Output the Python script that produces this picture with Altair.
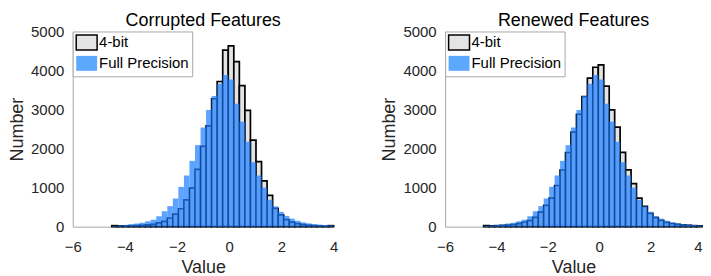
import altair as alt
import numpy as np
import pandas as pd

# ---- data ----
BIN_LO = -4.5
BIN_HI = 4.0
N_BINS = 40

full_precision = [20, 30, 45, 60, 80, 100, 137, 178, 265, 395,
                  525, 720, 1020, 1310, 1685, 2088, 2540, 2990, 3345, 3660,
                  3888, 3770, 3150, 2690, 2174, 1650, 1310, 1000, 688, 520,
                  380, 275, 205, 150, 110, 85, 65, 52, 42, 32]

corrupted_4bit = [25, 18, 20, 24, 28, 35, 45, 60, 95, 137,
                  221, 323, 458, 687, 985, 1469, 2055, 2581, 3277, 3718,
                  4524, 4630, 4226, 3615, 2979, 2215, 1665, 1171, 800, 470,
                  300, 180, 115, 75, 50, 35, 25, 18, 12, 25]

renewed_4bit = [25, 20, 25, 30, 40, 55, 78, 112, 153, 239,
                374, 545, 731, 1054, 1451, 1900, 2420, 2880, 3330, 3803,
                4083, 4142, 3600, 2990, 2550, 1902, 1452, 1100, 730, 520,
                340, 230, 160, 110, 80, 60, 45, 35, 25, 20]

series_names = ["4-bit", "Full Precision"]
panel_titles = ["Corrupted Features", "Renewed Features"]
x_ticks = [-6, -4, -2, 0, 2, 4]
y_ticks = [0, 1000, 2000, 3000, 4000, 5000]

# ---- styles ----
FONT = "Liberation Sans"
GRAY = "#e4e4e4"
FP_FILL = "#1f80ff"
FP_LEGEND = "#5ca8ff"
AXIS_COLOR = "#a6a6a6"
TEXT_COLOR = "#262626"

edges = np.linspace(BIN_LO, BIN_HI, N_BINS + 1)


def frame(counts, series):
    return pd.DataFrame({"x0": edges[:-1], "x1": edges[1:],
                         "count": counts, "series": series})


def panel(title, q_counts, width, flush_last=False):
    df = pd.concat([frame(q_counts, series_names[0]),
                    frame(full_precision, series_names[1])], ignore_index=True)
    x_axis_kw = dict(values=x_ticks, title="Value", grid=False, ticks=False,
                     domainColor=AXIS_COLOR, labelFontSize=15, labelColor=TEXT_COLOR,
                     labelFont=FONT, titleFont=FONT, titleFontSize=18,
                     titleFontWeight="normal", titleColor=TEXT_COLOR,
                     labelPadding=13, titlePadding=4, labelFlush=False, format="d")
    if flush_last:
        x_axis_kw["labelAlign"] = alt.ExprRef(
            expr=f"datum.value == {x_ticks[-1]} ? 'right' : 'center'")
    x = alt.X("x0:Q",
              scale=alt.Scale(domain=[x_ticks[0], x_ticks[-1]], nice=False, zero=False),
              axis=alt.Axis(**x_axis_kw))
    y = alt.Y("count:Q",
              scale=alt.Scale(domain=[y_ticks[0], y_ticks[-1]], nice=False),
              axis=alt.Axis(values=y_ticks, title="Number", grid=False, ticks=False,
                            domainColor=AXIS_COLOR, labelFontSize=15, labelColor=TEXT_COLOR,
                            labelFont=FONT, titleFont=FONT, titleFontSize=18,
                            titleFontWeight="normal", titleColor=TEXT_COLOR,
                            labelPadding=9, titlePadding=4, labelFlush=False, format="d"))
    legend = alt.Legend(title=None, orient="none", legendX=0, legendY=0,
                        fillColor="white", strokeColor="#a8a8a8", padding=2.5,
                        cornerRadius=0, rowPadding=0, labelFont=FONT, labelFontSize=15,
                        labelColor="#000000", labelOffset=7,
                        symbolType="M-1,-1L1.8,-1L1.8,1L-1,1Z", symbolSize=225,
                        symbolStrokeWidth=1.5)
    quant = alt.Chart(df).transform_filter(
        alt.datum.series == series_names[0]
    ).mark_bar(strokeWidth=1.7).encode(
        x=x, x2="x1:Q", y=y, y2=alt.datum(0),
        fill=alt.Fill("series:N",
                      scale=alt.Scale(domain=series_names, range=[GRAY, FP_LEGEND]),
                      legend=legend),
        stroke=alt.Stroke("series:N",
                          scale=alt.Scale(domain=series_names, range=["#000000", "transparent"]),
                          legend=legend),
    )
    fp = alt.Chart(df).transform_filter(
        alt.datum.series == series_names[1]
    ).mark_bar(fill=FP_FILL, opacity=0.72, strokeWidth=0).encode(
        x=x, x2="x1:Q", y=y, y2=alt.datum(0),
    )
    return alt.layer(quant, fp).properties(
        width=width, height=196,
        title=alt.Title(title, font=FONT, fontSize=18, fontWeight="normal",
                        color="#000000", offset=-5),
    )


chart = alt.hconcat(
    panel(panel_titles[0], corrupted_4bit, 262),
    panel(panel_titles[1], renewed_4bit, 258, flush_last=True),
    spacing=42,
).resolve_scale(fill="independent", stroke="independent").resolve_legend(
    fill="independent", stroke="independent"
).properties(padding={"left": 0, "top": 3, "right": 0, "bottom": 0}).configure_view(stroke=None)

chart.save("out.html", embed_options={"renderer": "svg", "actions": False})
